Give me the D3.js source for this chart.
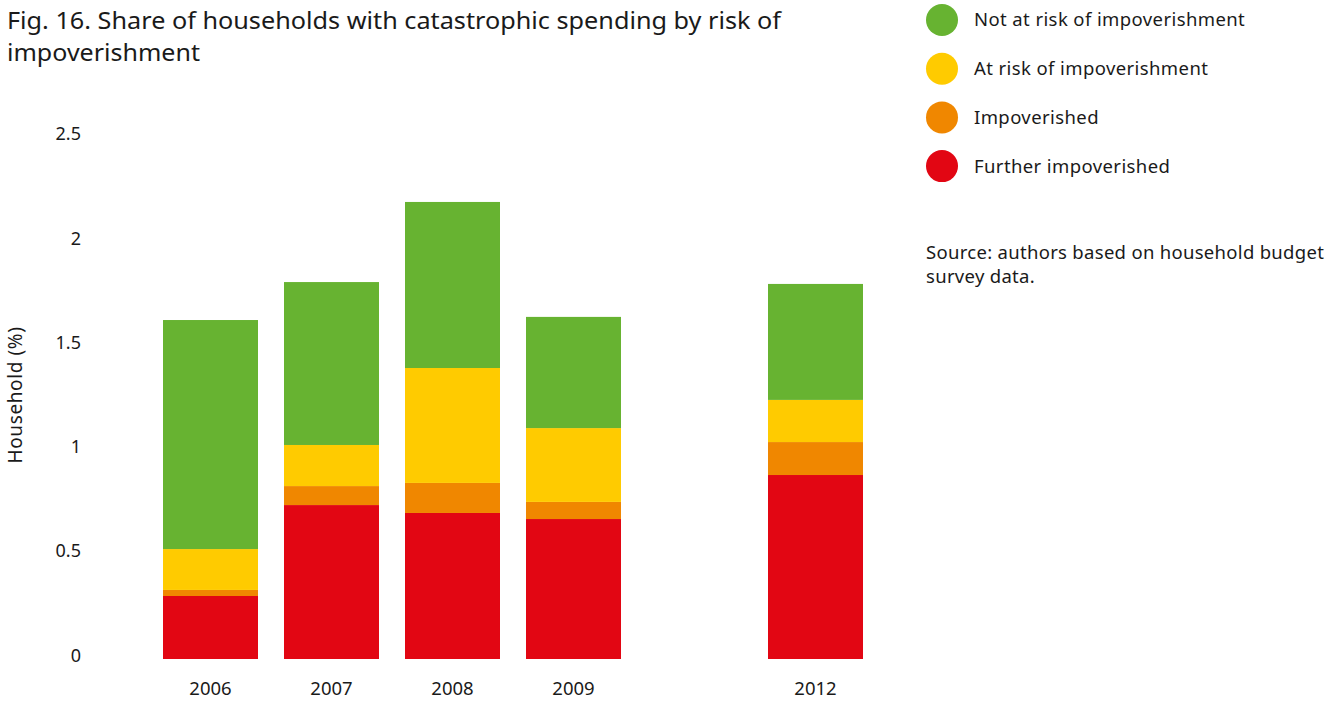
<!DOCTYPE html>
<html>
<head>
<meta charset="utf-8">
<script src="https://cdn.jsdelivr.net/npm/d3@7"></script>
<style>
  html, body { margin: 0; padding: 0; background: #fff; }
  svg { display: block; }
  text { fill: #1a1a1a; }
</style>
</head>
<body>
<svg id="chart" width="1334" height="702"></svg>
<script>
// ---- Data ----
const years = ["2006", "2007", "2008", "2009", "", "2012"];
const seriesNames = ["Further impoverished", "Impoverished", "At risk of impoverishment", "Not at risk of impoverishment"];
const furtherImpoverished = [0.302, 0.738, 0.700, 0.671, null, 0.882];
const impoverished        = [0.029, 0.091, 0.144, 0.082, null, 0.158];
const atRisk              = [0.196, 0.197, 0.551, 0.354, null, 0.202];
const notAtRisk           = [1.098, 0.781, 0.796, 0.533, null, 0.556];
const yTicks = [0, 0.5, 1, 1.5, 2, 2.5];
const yTickLabels = ["0", "0.5", "1", "1.5", "2", "2.5"];
const legendOrder = ["Not at risk of impoverishment", "At risk of impoverishment", "Impoverished", "Further impoverished"];
const colors = ["#e20613", "#f08700", "#ffcb00", "#67b331"];
const titleLines = ["Fig. 16. Share of households with catastrophic spending by risk of", "impoverishment"];
const yAxisTitle = "Household (%)";
const sourceLines = ["Source: authors based on household budget", "survey data."];

// ---- Build table ----
const seriesValues = [furtherImpoverished, impoverished, atRisk, notAtRisk];
const rows = years.map((y, i) => {
  const r = { year: y, idx: i };
  seriesNames.forEach((s, k) => { r[s] = seriesValues[k][i] == null ? 0 : seriesValues[k][i]; });
  return r;
});
const stack = d3.stack().keys(seriesNames)(rows);

const svg = d3.select("#chart");
const font = "'Noto Sans', 'Open Sans', sans-serif";

const x = d3.scaleBand().domain(d3.range(years.length)).range([150, 876])
  .paddingInner(0.215).paddingOuter(0.1075);
const y = d3.scaleLinear().domain([0, 2.5]).range([659, 137.5]);
const color = d3.scaleOrdinal().domain(seriesNames).range(colors);

// Bars
svg.append("g").selectAll("g").data(stack).join("g")
  .attr("fill", d => color(d.key))
  .selectAll("rect").data(d => d.filter(p => years[p.data.idx] !== ""))
  .join("rect")
  .attr("x", d => x(d.data.idx))
  .attr("width", x.bandwidth())
  .attr("y", d => y(d[1]))
  .attr("height", d => y(d[0]) - y(d[1]));

// Y axis labels
const yAxis = d3.axisLeft(y).tickValues(yTicks).tickFormat((d, i) => yTickLabels[i]).tickSize(0).tickPadding(0);
const gy = svg.append("g").attr("transform", "translate(81,-3.5)").call(yAxis);
gy.select(".domain").remove();
gy.selectAll("text").attr("font-family", font).attr("font-size", 18).attr("fill", "#1a1a1a");

// X axis labels
const xAxis = d3.axisBottom(x).tickFormat(i => years[i]).tickSize(0).tickPadding(0);
const gx = svg.append("g").attr("transform", "translate(0,682)").call(xAxis);
gx.select(".domain").remove();
gx.selectAll("text").attr("font-family", font).attr("font-size", 18.5).attr("fill", "#1a1a1a");

// Y axis title
svg.append("text")
  .attr("transform", "translate(22,395) rotate(-90)")
  .attr("text-anchor", "middle")
  .attr("font-family", font).attr("font-size", 19).attr("letter-spacing", 0.6)
  .text(yAxisTitle);

// Title
const titleWidths = [774, 193];
svg.append("text")
  .attr("font-family", font)
  .attr("font-size", 23)
  .selectAll("tspan").data(titleLines).join("tspan")
  .attr("x", 7).attr("y", (d, i) => 29 + i * 32)
  .attr("textLength", (d, i) => titleWidths[i])
  .attr("lengthAdjust", "spacingAndGlyphs")
  .text(d => d);

// Legend
const lg = svg.append("g").selectAll("g").data(legendOrder).join("g")
  .attr("transform", (d, i) => `translate(942,${20 + i * 48.7})`);
lg.append("circle").attr("r", 16).attr("fill", d => color(d));
lg.append("text").attr("x", 32).attr("dy", "0.35em")
  .attr("font-family", font).attr("font-size", 18.5).attr("letter-spacing", 0.4).text(d => d);

// Source
svg.append("text")
  .attr("font-family", font).attr("font-size", 18.5).attr("letter-spacing", 0.3)
  .selectAll("tspan").data(sourceLines).join("tspan")
  .attr("x", 926).attr("y", (d, i) => 259 + i * 24)
  .text(d => d);
</script>
</body>
</html>
